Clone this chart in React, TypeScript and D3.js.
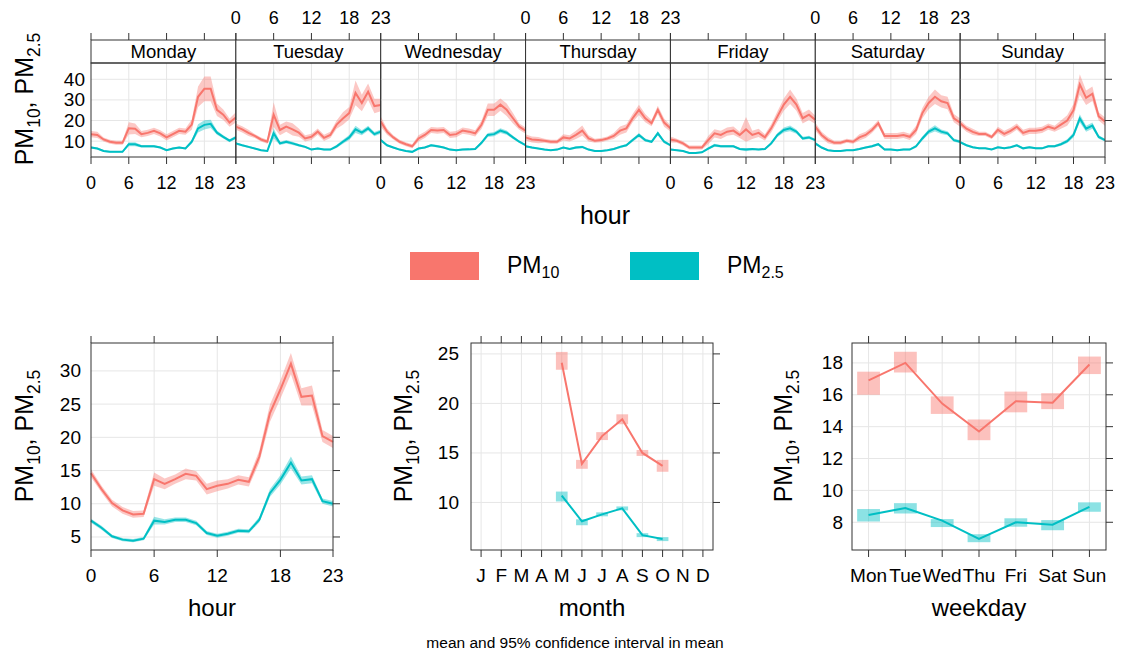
import * as d3 from 'd3';

// ---- data ----
const days = ['Monday', 'Tuesday', 'Wednesday', 'Thursday', 'Friday', 'Saturday', 'Sunday'];
const dayAbbr = ['Mon', 'Tue', 'Wed', 'Thu', 'Fri', 'Sat', 'Sun'];
const monthLabels = ['J', 'F', 'M', 'A', 'M', 'J', 'J', 'A', 'S', 'O', 'N', 'D'];
const hours = d3.range(24);

// day x hour means and CI half-widths
const monPm10 = [13.4, 13, 10.8, 9.7, 9.2, 9.2, 16.2, 16, 13.4, 14, 15, 13.8, 11.8, 13.4, 15, 14.6, 18, 31.5, 35.4, 35.4, 25.2, 22.8, 19, 21.5];
const tuePm10 = [17, 15.7, 14, 12.5, 10.8, 9.7, 22.8, 15.4, 17, 15.7, 14.1, 11.3, 12.1, 14.6, 11.6, 13, 18, 21, 23.6, 33.4, 28.5, 34, 27, 27.5];
const wedPm10 = [19.5, 14.6, 11.8, 9.7, 8.5, 7.5, 11.3, 13, 15.4, 15.1, 15.4, 13, 13.4, 15.1, 14.6, 13.8, 17.9, 25.2, 25.2, 27.7, 25.2, 21.1, 17, 15.1];
const thuPm10 = [11.8, 10.8, 10.5, 10.2, 9.7, 9.7, 11.8, 11.3, 13, 15.1, 11.3, 10.2, 10.5, 11.3, 12.5, 15.1, 16.2, 21.1, 25.2, 21.1, 18.7, 25.2, 19, 16.2];
const friPm10 = [10.8, 10.2, 8.9, 6.9, 6.9, 6.9, 10.5, 13.8, 13, 14.6, 15.1, 13, 15.7, 13, 14, 11.8, 16.2, 22, 27.7, 31.5, 27.7, 21.1, 22.8, 20.3];
const satPm10 = [17, 13, 10.5, 9.2, 9.2, 10.2, 9.7, 11.8, 13, 15.4, 18.7, 12.5, 12.5, 12.5, 13, 12.1, 15.4, 23.6, 28.5, 31.5, 29.3, 28.5, 21.1, 19];
const sunPm10 = [18.7, 16, 14.5, 13.5, 13.5, 12, 15.5, 13.5, 15, 17, 14, 15, 15, 15.5, 17, 16, 18, 20, 25, 37.5, 31, 33, 22, 19.5];

const monPm10Ci = [1.5, 1.5, 1, 1, 1, 1, 3, 2.5, 1.5, 1.5, 1.5, 1.5, 1.5, 1.5, 1.5, 1.5, 2.5, 5, 6, 6, 3, 2.5, 2, 2.5];
const tuePm10Ci = [1.5, 1.5, 1.5, 1, 1, 1, 6, 2.5, 2.5, 3, 2, 1.5, 1.5, 1.5, 1.5, 1.5, 2, 3, 3, 6, 4, 4, 3.5, 3];
const wedPm10Ci = [2.5, 1.5, 1, 1, 1, 1, 1.5, 1.5, 1.5, 1.5, 1.5, 1.5, 1.5, 1.5, 1.5, 1.5, 2, 3, 3, 3, 3, 2.5, 1.5, 1.5];
const thuPm10Ci = [1.5, 1.5, 1.5, 1, 1, 1, 1.5, 1.5, 2, 2.5, 1.5, 1, 1, 1, 1.5, 2, 2, 2, 2.5, 2, 1.5, 2, 2, 1.5];
const friPm10Ci = [1.5, 1, 1, 1, 1, 1, 2, 2, 2, 2, 2, 1.5, 6, 2, 2, 1.5, 2, 2.5, 3, 3.5, 3, 2.5, 2.5, 2];
const satPm10Ci = [2, 1.5, 1.5, 1, 1, 1, 1, 1.5, 1.5, 1.5, 1.5, 1.5, 1.5, 1.5, 1.5, 1.5, 2, 2.5, 3, 3.5, 3, 3, 2, 2];
const sunPm10Ci = [1.5, 1.5, 1.5, 1, 1, 1, 1.5, 1.5, 1.5, 1.5, 1.5, 1.5, 1.5, 1.5, 1.5, 1.5, 2, 2.5, 3, 5, 3.5, 3.5, 2, 2];

const monPm25 = [6.9, 6.4, 5.2, 4.8, 4.8, 4.8, 8.5, 8.5, 7.5, 7.5, 7.5, 6.9, 5.6, 6.4, 6.9, 6.4, 9.7, 16.2, 17.9, 18.4, 14.1, 12.1, 10.2, 11.8];
const tuePm25 = [8.9, 8, 7.2, 6.4, 5.6, 5.2, 13.8, 8.9, 9.7, 8.9, 8, 7.2, 5.9, 6.4, 5.9, 5.9, 7.5, 9.7, 11.8, 15.7, 14.1, 16.2, 13.4, 14.6];
const wedPm25 = [10.5, 8, 6.9, 5.9, 5.2, 4.8, 6.4, 6.9, 8, 7.5, 6.9, 5.9, 5.6, 5.9, 6, 6.2, 9.2, 13, 13.4, 15.1, 14.1, 11.8, 9.7, 8];
const thuPm25 = [7.5, 6.9, 6.4, 5.9, 5.6, 5.9, 6.9, 6.2, 6.9, 7.2, 5.9, 5.2, 5.2, 5.6, 6.2, 7.2, 8, 10.5, 13, 10.5, 9.7, 13.8, 9.7, 8];
const friPm25 = [5.9, 5.6, 5.2, 4.3, 4.3, 4.6, 6.4, 8, 7.5, 7.5, 7.5, 6.2, 5.9, 6.2, 5.9, 6.2, 8.9, 13, 15.4, 16.2, 14.6, 11.3, 11.8, 10.5];
const satPm25 = [8.9, 6.9, 5.6, 5.2, 5.2, 5.6, 5.6, 6.2, 6.9, 7.5, 8.5, 5.9, 5.9, 5.6, 5.9, 5.9, 7.5, 11.3, 14.6, 16.2, 14.6, 13.8, 10.5, 9.7];
const sunPm25 = [9.5, 8, 7, 6.5, 6.5, 6, 7, 6.5, 7, 8, 6.5, 7, 6.5, 6.5, 7.5, 7.5, 8.5, 10, 13, 21, 16, 17.5, 12, 10.5];

const monPm25Ci = [0.6, 0.5, 0.5, 0.4, 0.4, 0.4, 1, 1, 0.6, 0.6, 0.6, 0.5, 0.5, 0.5, 0.5, 0.5, 1, 2, 2.2, 2, 1, 0.8, 0.7, 0.8];
const tuePm25Ci = [0.6, 0.5, 0.5, 0.4, 0.4, 0.4, 2.5, 0.8, 0.8, 0.8, 0.6, 0.5, 0.5, 0.5, 0.5, 0.5, 0.8, 1, 1.2, 1.8, 1.2, 1.2, 1, 1];
const wedPm25Ci = [0.8, 0.5, 0.5, 0.4, 0.4, 0.4, 0.5, 0.5, 0.6, 0.6, 0.5, 0.5, 0.5, 0.5, 0.5, 0.5, 0.8, 1, 1, 1.2, 1, 0.8, 0.6, 0.5];
const thuPm25Ci = [0.5, 0.5, 0.4, 0.4, 0.4, 0.4, 0.5, 0.5, 0.6, 0.6, 0.5, 0.4, 0.4, 0.4, 0.5, 0.6, 0.6, 0.8, 1, 0.8, 0.6, 1, 0.7, 0.6];
const friPm25Ci = [0.5, 0.4, 0.4, 0.4, 0.4, 0.4, 0.6, 0.7, 0.6, 0.6, 0.6, 0.5, 0.8, 0.5, 0.5, 0.5, 0.8, 1, 1.2, 1.4, 1, 0.8, 0.8, 0.7];
const satPm25Ci = [0.7, 0.5, 0.4, 0.4, 0.4, 0.4, 0.4, 0.5, 0.5, 0.6, 0.6, 0.5, 0.5, 0.5, 0.5, 0.5, 0.7, 1, 1.2, 1.5, 1.1, 1, 0.8, 0.7];
const sunPm25Ci = [0.6, 0.5, 0.5, 0.4, 0.4, 0.4, 0.5, 0.5, 0.5, 0.6, 0.5, 0.5, 0.5, 0.5, 0.6, 0.6, 0.7, 0.9, 1.2, 2, 1.5, 1.5, 0.9, 0.7];

const dayPm10 = [monPm10, tuePm10, wedPm10, thuPm10, friPm10, satPm10, sunPm10];
const dayPm10Ci = [monPm10Ci, tuePm10Ci, wedPm10Ci, thuPm10Ci, friPm10Ci, satPm10Ci, sunPm10Ci];
const dayPm25 = [monPm25, tuePm25, wedPm25, thuPm25, friPm25, satPm25, sunPm25];
const dayPm25Ci = [monPm25Ci, tuePm25Ci, wedPm25Ci, thuPm25Ci, friPm25Ci, satPm25Ci, sunPm25Ci];

// hour of day
const hourPm10 = [14.6, 12.2, 10.1, 9.0, 8.4, 8.5, 13.7, 13.0, 13.7, 14.5, 14.2, 12.2, 12.7, 13.0, 13.6, 13.3, 17.1, 23.6, 27.2, 31.1, 26.1, 26.3, 20.2, 19.3];
const hourPm10Ci = [0.6, 0.5, 0.5, 0.5, 0.5, 0.5, 1, 0.8, 0.7, 0.8, 0.7, 0.8, 0.8, 0.7, 0.7, 0.7, 0.9, 1.3, 1.4, 1.6, 1.3, 1.5, 0.9, 0.9];
const hourPm25 = [7.46, 6.4, 5.1, 4.6, 4.45, 4.75, 7.46, 7.26, 7.6, 7.6, 7.1, 5.6, 5.2, 5.5, 5.95, 5.85, 7.6, 11.6, 13.6, 16.2, 13.5, 13.7, 10.4, 10.0];
const hourPm25Ci = [0.3, 0.3, 0.25, 0.25, 0.25, 0.25, 0.6, 0.4, 0.35, 0.35, 0.35, 0.3, 0.3, 0.3, 0.3, 0.3, 0.4, 0.6, 0.7, 0.9, 0.6, 0.6, 0.4, 0.4];

// month (only May..Oct present)
const monthIdx = [5, 6, 7, 8, 9, 10];
const monthPm10 = [24.1, 13.9, 16.7, 18.4, 15.0, 13.7];
const monthPm10Lo = [23.4, 13.4, 16.3, 17.9, 14.7, 13.1];
const monthPm10Hi = [25.2, 14.3, 17.1, 18.9, 15.3, 14.3];
const monthPm25 = [10.7, 8.1, 8.8, 9.4, 6.7, 6.3];
const monthPm25Lo = [10.1, 7.7, 8.6, 9.2, 6.5, 6.1];
const monthPm25Hi = [11.1, 8.3, 9.0, 9.6, 6.9, 6.5];

// weekday
const wdPm10 = [16.9, 18.0, 15.45, 13.7, 15.6, 15.5, 17.9];
const wdPm10Lo = [16.0, 17.4, 14.8, 13.15, 14.9, 15.1, 17.3];
const wdPm10Hi = [17.45, 18.7, 15.9, 14.45, 16.2, 16.1, 18.4];
const wdPm25 = [8.46, 8.9, 8.1, 6.95, 8.0, 7.85, 8.97];
const wdPm25Lo = [8.05, 8.55, 7.7, 6.75, 7.72, 7.5, 8.66];
const wdPm25Hi = [8.83, 9.2, 8.2, 7.25, 8.25, 8.14, 9.25];

const RED = '#F8766D';
const CYAN = '#00BFC4';
const GRID = '#e6e6e6';
const AXIS = '#333';
const FONT = 'Liberation Sans, Arial, Helvetica, sans-serif';
const TICK = 19;

const PmLabel = ({ x, y, size }: { x: number; y: number; size: number }) => (
  <text transform={`translate(${x},${y}) rotate(-90)`} textAnchor="middle" fontSize={size} fill="#000">
    PM<tspan fontSize={size * 0.7} dy={size * 0.28}>10</tspan>
    <tspan dy={-size * 0.28}>, PM</tspan>
    <tspan fontSize={size * 0.7} dy={size * 0.28}>2.5</tspan>
  </text>
);

// ---- top: day x hour ----
const TopPanels = () => {
  const left = 91, right = 1105, stripTop = 40, plotTop = 63, plotBottom = 157;
  const pw = (right - left) / 7;
  const y = d3.scaleLinear().domain([2.3, 47.9]).range([plotBottom, plotTop]);
  const yTicks = [10, 20, 30, 40];
  const xTicks = [0, 6, 12, 18, 23];

  return (
    <g>
      {days.map((day, i) => {
        const x = d3.scaleLinear().domain([0, 23]).range([left + i * pw, left + (i + 1) * pw]);
        const band = (m: number[], c: number[]) =>
          d3.area<number>().x((h) => x(h)).y0((h) => y(m[h] - c[h])).y1((h) => y(m[h] + c[h]))(hours) || '';
        const line = (m: number[]) => d3.line<number>().x((h) => x(h)).y((h) => y(m[h]))(hours) || '';
        const labelBottom = i % 2 === 0;
        return (
          <g key={day}>
            <clipPath id={`clip-day-${i}`}>
              <rect x={x(0)} y={plotTop} width={pw} height={plotBottom - plotTop} />
            </clipPath>
            {[6, 12, 18].map((h) => (
              <line key={h} x1={x(h)} x2={x(h)} y1={plotTop} y2={plotBottom} stroke={GRID} />
            ))}
            {yTicks.map((t) => (
              <line key={t} x1={x(0)} x2={x(23)} y1={y(t)} y2={y(t)} stroke={GRID} />
            ))}
            <g clipPath={`url(#clip-day-${i})`}>
              <path d={band(dayPm10[i], dayPm10Ci[i])} fill={RED} fillOpacity={0.4} />
              <path d={band(dayPm25[i], dayPm25Ci[i])} fill={CYAN} fillOpacity={0.4} />
              <path d={line(dayPm10[i])} fill="none" stroke={RED} strokeWidth={2} />
              <path d={line(dayPm25[i])} fill="none" stroke={CYAN} strokeWidth={2} />
            </g>
            {/* strip */}
            <rect x={x(0)} y={stripTop} width={pw} height={plotTop - stripTop} fill="#fff" stroke={AXIS} />
            <text x={x(11.5)} y={58} textAnchor="middle" fontSize={18.5}>{day}</text>
            <rect x={x(0)} y={plotTop} width={pw} height={plotBottom - plotTop} fill="none" stroke={AXIS} />
            {xTicks.map((t) => (
              <g key={t}>
                <line x1={x(t)} x2={x(t)} y1={plotBottom} y2={plotBottom + 7} stroke={AXIS} />
                <line x1={x(t)} x2={x(t)} y1={stripTop - 7} y2={stripTop} stroke={AXIS} />
                <text x={x(t)} y={labelBottom ? 189 : 24} textAnchor="middle" fontSize={18}>
                  {t}
                </text>
              </g>
            ))}
          </g>
        );
      })}
      {yTicks.map((t) => (
        <g key={t}>
          <text x={85} y={y(t) + 6.5} textAnchor="end" fontSize={TICK}>{t}</text>
          <line x1={right} x2={right + 7} y1={y(t)} y2={y(t)} stroke={AXIS} />
        </g>
      ))}
      <PmLabel x={33} y={99} size={25} />
      <text x={605} y={224} textAnchor="middle" fontSize={25}>hour</text>
    </g>
  );
};

const Legend = () => (
  <g>
    <rect x={410} y={252} width={69} height={28} fill={RED} />
    <text x={507} y={273} fontSize={23}>
      PM<tspan fontSize={16} dy={5}>10</tspan>
    </text>
    <rect x={630} y={252} width={69} height={28} fill={CYAN} />
    <text x={727} y={273} fontSize={23}>
      PM<tspan fontSize={16} dy={5}>2.5</tspan>
    </text>
  </g>
);

// ---- bottom-left: hour ----
const HourPanel = () => {
  const x = d3.scaleLinear().domain([0, 23]).range([91, 333]);
  const y = d3.scaleLinear().domain([3.04, 34.2]).range([550, 343]);
  const yTicks = [5, 10, 15, 20, 25, 30];
  const xTicks = [0, 6, 12, 18, 23];
  const band = (m: number[], c: number[]) =>
    d3.area<number>().x((h) => x(h)).y0((h) => y(m[h] - c[h])).y1((h) => y(m[h] + c[h]))(hours) || '';
  const line = (m: number[]) => d3.line<number>().x((h) => x(h)).y((h) => y(m[h]))(hours) || '';
  return (
    <g>
      {[6, 12, 18].map((h) => (
        <line key={h} x1={x(h)} x2={x(h)} y1={343} y2={550} stroke={GRID} />
      ))}
      {yTicks.map((t) => (
        <line key={t} x1={91} x2={333} y1={y(t)} y2={y(t)} stroke={GRID} />
      ))}
      <path d={band(hourPm10, hourPm10Ci)} fill={RED} fillOpacity={0.4} />
      <path d={band(hourPm25, hourPm25Ci)} fill={CYAN} fillOpacity={0.4} />
      <path d={line(hourPm10)} fill="none" stroke={RED} strokeWidth={2} />
      <path d={line(hourPm25)} fill="none" stroke={CYAN} strokeWidth={2} />
      <rect x={91} y={343} width={242} height={207} fill="none" stroke={AXIS} />
      {xTicks.map((t) => (
        <g key={t}>
          <line x1={x(t)} x2={x(t)} y1={550} y2={557} stroke={AXIS} />
          <line x1={x(t)} x2={x(t)} y1={336} y2={343} stroke={AXIS} />
          <text x={x(t)} y={582} textAnchor="middle" fontSize={TICK}>{t}</text>
        </g>
      ))}
      {yTicks.map((t) => (
        <g key={t}>
          <line x1={333} x2={340} y1={y(t)} y2={y(t)} stroke={AXIS} />
          <text x={81} y={y(t) + 6.5} textAnchor="end" fontSize={TICK}>{t}</text>
        </g>
      ))}
      <PmLabel x={33} y={436} size={25} />
      <text x={212} y={616} textAnchor="middle" fontSize={24}>hour</text>
    </g>
  );
};

// ---- rect + line panel for month / weekday ----
type CatProps = {
  x0: number; x1: number; domain: [number, number]; yDomain: [number, number];
  yTicks: number[]; cats: number[]; catLabels: string[]; pos: number[];
  p10: number[]; p10Lo: number[]; p10Hi: number[];
  p25: number[]; p25Lo: number[]; p25Hi: number[];
  title: string; labelX: number; rectW: number; gap: number;
};

const CatPanel = (p: CatProps) => {
  const x = d3.scaleLinear().domain(p.domain).range([p.x0, p.x1]);
  const y = d3.scaleLinear().domain(p.yDomain).range([550, 343]);
  const hw = (x(1) - x(0)) * p.rectW / 2;
  const line = (vals: number[]) =>
    d3.line<number>().x((_, i) => x(p.pos[i])).y((v) => y(v))(vals) || '';
  return (
    <g>
      {p.cats.map((c) => (
        <line key={c} x1={x(c)} x2={x(c)} y1={343} y2={550} stroke={GRID} />
      ))}
      {p.yTicks.map((t) => (
        <line key={t} x1={p.x0} x2={p.x1} y1={y(t)} y2={y(t)} stroke={GRID} />
      ))}
      {p.pos.map((c, i) => (
        <rect key={'r' + i} x={x(c) - hw} width={hw * 2} y={y(p.p10Hi[i])} height={y(p.p10Lo[i]) - y(p.p10Hi[i])}
          fill={RED} fillOpacity={0.45} />
      ))}
      {p.pos.map((c, i) => (
        <rect key={'c' + i} x={x(c) - hw} width={hw * 2} y={y(p.p25Hi[i])} height={y(p.p25Lo[i]) - y(p.p25Hi[i])}
          fill={CYAN} fillOpacity={0.45} />
      ))}
      <path d={line(p.p10)} fill="none" stroke={RED} strokeWidth={2} />
      <path d={line(p.p25)} fill="none" stroke={CYAN} strokeWidth={2} />
      <rect x={p.x0} y={343} width={p.x1 - p.x0} height={207} fill="none" stroke={AXIS} />
      {p.cats.map((c, i) => (
        <g key={c}>
          <line x1={x(c)} x2={x(c)} y1={550} y2={557} stroke={AXIS} />
          <line x1={x(c)} x2={x(c)} y1={336} y2={343} stroke={AXIS} />
          <text x={x(c)} y={582} textAnchor="middle" fontSize={TICK}>{p.catLabels[i]}</text>
        </g>
      ))}
      {p.yTicks.map((t) => (
        <g key={t}>
          <line x1={p.x1} x2={p.x1 + 7} y1={y(t)} y2={y(t)} stroke={AXIS} />
          <text x={p.x0 - p.gap} y={y(t) + 6.5} textAnchor="end" fontSize={TICK}>{t}</text>
        </g>
      ))}
      <PmLabel x={p.labelX} y={436} size={25} />
      <text x={(p.x0 + p.x1) / 2} y={616} textAnchor="middle" fontSize={24}>{p.title}</text>
    </g>
  );
};

export default function App() {
  return (
    <svg width={1122} height={657} style={{ position: 'absolute', left: 0, top: 0, background: '#fff' }}
      fontFamily={FONT}>
      <rect width={1122} height={657} fill="#fff" />
      <TopPanels />
      <Legend />
      <HourPanel />
      <CatPanel x0={471} x1={713} domain={[0.5, 12.5]} yDomain={[5.2, 26.1]} yTicks={[10, 15, 20, 25]}
        cats={d3.range(1, 13)} catLabels={monthLabels} pos={monthIdx}
        p10={monthPm10} p10Lo={monthPm10Lo} p10Hi={monthPm10Hi}
        p25={monthPm25} p25Lo={monthPm25Lo} p25Hi={monthPm25Hi}
        title="month" labelX={412} rectW={0.58} gap={12} />
      <CatPanel x0={852} x1={1106} domain={[0.55, 7.45]} yDomain={[6.26, 19.25]} yTicks={[8, 10, 12, 14, 16, 18]}
        cats={d3.range(1, 8)} catLabels={dayAbbr} pos={d3.range(1, 8)}
        p10={wdPm10} p10Lo={wdPm10Lo} p10Hi={wdPm10Hi}
        p25={wdPm25} p25Lo={wdPm25Lo} p25Hi={wdPm25Hi}
        title="weekday" labelX={792} rectW={0.62} gap={9} />
      <text x={575} y={648} textAnchor="middle" fontSize={15.5}>mean and 95% confidence interval in mean</text>
    </svg>
  );
}
